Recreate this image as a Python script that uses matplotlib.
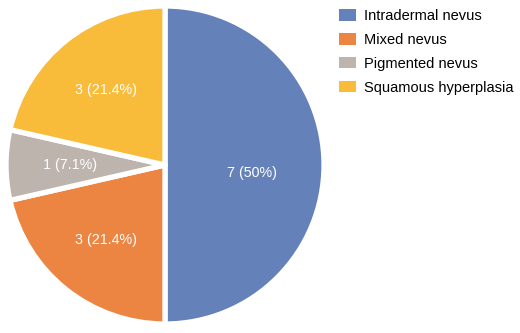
import matplotlib.pyplot as plt
from matplotlib.patches import Patch

plt.rcParams['font.family'] = ['Liberation Sans', 'DejaVu Sans']

categories = ["Intradermal nevus", "Mixed nevus", "Pigmented nevus", "Squamous hyperplasia"]
counts = [7, 3, 1, 3]
colors = ["#6581B9", "#EC8442", "#BDB4AE", "#F8BC3A"]

total = sum(counts)

fig = plt.figure(figsize=(5.2, 3.33), dpi=100)
# square axes for the pie on the left part of the figure
ax = fig.add_axes([6 / 520, 9 / 333, 318 / 520, 318 / 333])

wedges, texts, autotexts = ax.pie(
    counts,
    colors=colors,
    startangle=90,
    counterclock=False,
    radius=1.0,
    autopct=lambda p: "{:d} ({:g}%)".format(round(p * total / 100), round(p, 1)),
    pctdistance=0.6,
    wedgeprops=dict(edgecolor="white", linewidth=3.8, joinstyle="round"),
    textprops=dict(color="white", fontsize=10.3),
)
# the big slice's label sits a little lower and closer to the centre
autotexts[0].set_position((0.55, -0.05))

ax.set_xlim(-1, 1)
ax.set_ylim(-1, 1)
ax.set_aspect("equal")
ax.axis("off")
for w in wedges:
    w.set_clip_on(False)

handles = [Patch(facecolor=c, edgecolor="none") for c in colors]
fig.legend(
    handles, categories,
    loc="upper left",
    bbox_to_anchor=(333 / 520, 1 - 3 / 333),
    frameon=False,
    fontsize=10.5,
    handlelength=1.15,
    handleheight=0.85,
    handletextpad=0.6,
    labelspacing=0.68,
    borderaxespad=0,
)

fig.savefig("out.png", dpi=100)
